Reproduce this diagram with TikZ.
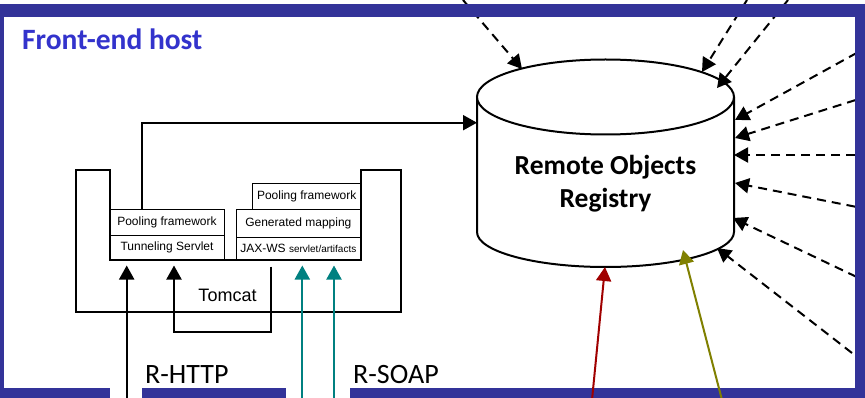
\documentclass[tikz,border=0pt]{standalone}
\usepackage{fontspec}
\usetikzlibrary{arrows.meta}
\newfontfamily\fcarl{Carlito}
\newfontfamily\farial{Liberation Sans}
\definecolor{framebl}{RGB}{51,51,153}
\definecolor{titlebl}{RGB}{51,51,204}
\definecolor{tealc}{RGB}{0,128,128}
\definecolor{redc}{RGB}{160,0,0}
\definecolor{olivec}{RGB}{128,128,0}
\tikzset{
  tipstyle/.style={-{Triangle[length=14pt,width=15pt]}},
  dsh/.style={tipstyle, line width=2pt, dash pattern=on 9pt off 6pt},
  blk/.style={tipstyle, line width=2pt},
  cell/.style={draw, line width=1pt, inner sep=0pt, font=\farial\fontsize{12}{14}\selectfont},
  band/.style={fill=framebl},
  cyl/.style={line width=2pt},
  big/.style={font=\fcarl\fontsize{28}{34}\selectfont, inner sep=0pt},
}
\begin{document}
\begin{tikzpicture}[x=1pt,y=-1pt]
\useasboundingbox (0,0) rectangle (865,398);
\fill[white] (0,0) rectangle (865,398);

% cylinder
\fill[white] (477,97) -- (477,232) arc[start angle=180,end angle=360,x radius=128.5pt,y radius=35pt] -- (734,97) -- cycle;
\draw[cyl] (477,97) -- (477,232) arc[start angle=180,end angle=360,x radius=128.5pt,y radius=35pt] -- (734,97);
\draw[cyl, fill=white] (605.5,97) ellipse [x radius=128.5pt,y radius=37.5pt];
\node[font=\fcarl\bfseries\fontsize{27.5}{33}\selectfont, anchor=base, inner sep=0pt] (ror1) at (605.5,175) {Remote Objects};
\node[font=\fcarl\bfseries\fontsize{27.5}{33}\selectfont, anchor=base, inner sep=0pt] (ror2) at (605.5,208) {Registry};

% dashed arrows
\coordinate (sA) at (463,0);   \coordinate (tA) at (522,69);
\coordinate (sB) at (747,0);   \coordinate (tB) at (702,72);
\coordinate (sC) at (788,0);   \coordinate (tC) at (717,88);
\coordinate (s1) at (870,45.6);  \coordinate (t1) at (735,120);
\coordinate (s2) at (870,95.5);  \coordinate (t2) at (735,138);
\coordinate (s3) at (870,155);   \coordinate (t3) at (734,155);
\coordinate (s4) at (870,209.6); \coordinate (t4) at (735,183);
\coordinate (s5) at (870,283.3); \coordinate (t5) at (733,218);
\coordinate (s6) at (852,353);   \coordinate (t6) at (717,248);
\foreach \i in {A,B,C,1,2,3,4,5,6} { \draw[dsh] (s\i) -- (t\i); }

% frame
\fill[band] (0,4) rectangle (865,17);
\fill[band] (0,4) rectangle (4,398);
\fill[band] (855,4) rectangle (865,398);
\fill[band] (0,388) rectangle (110,398);
\fill[band] (142,388) rectangle (286,398);
\fill[band] (350,388) rectangle (865,398);

\node[font=\fcarl\bfseries\fontsize{29.5}{35}\selectfont, text=titlebl, anchor=base west, inner sep=0pt] (title) at (22,50) {Front-end host};
\node[big, anchor=base west] (rhttp) at (145,383) {R-HTTP};
\node[big, anchor=base west] (rsoap) at (353,383) {R-SOAP};

% Tomcat container
\draw[line width=1.8pt] (75.7,170) -- (110,170) -- (110,260) -- (360.7,260) -- (360.7,170) -- (400.7,170) -- (400.7,312.3) -- (75.7,312.3) -- cycle;
\node[cell, minimum width=114pt, minimum height=25.7pt] (lpool) at (167,222.85) {Pooling framework};
\node[cell, minimum width=114pt, minimum height=24.3pt] (tunnel) at (167,247.85) {Tunneling Servlet};
\node[cell, minimum width=108pt, minimum height=26.7pt] (rpool) at (306.7,196.65) {Pooling framework};
\node[cell, minimum width=124.7pt, minimum height=27.3pt] (genmap) at (298.35,223.65) {Generated mapping};
\node[cell, minimum width=124.7pt, minimum height=22.7pt] (jaxws) at (298.35,248.65) {JAX-WS {\fontsize{10}{12}\selectfont servlet/artifacts}};
\node[font=\farial\fontsize{18}{20}\selectfont, inner sep=0pt] (tomcat) at (227.5,295) {Tomcat};

% black arrows
\coordinate (b1) at (126.7,400);
\draw[blk, shorten >=5pt] (b1) -- (b1 |- tunnel.south);
\coordinate (lp) at (270.7,266.7);
\coordinate (lpb) at (174,331.7);
\draw[blk, shorten >=5pt] (lp) |- (lpb) -- (lpb |- tunnel.south);
\coordinate (cylL) at (477,122.7);
\draw[blk] ([xshift=-25.3pt]lpool.north) |- (cylL);

% teal arrows
\coordinate (c1) at (302.3,400);
\coordinate (c2) at (334,400);
\draw[blk, tealc, shorten >=5pt] (c1) -- (c1 |- jaxws.south);
\draw[blk, tealc, shorten >=5pt] (c2) -- (c2 |- jaxws.south);

% red and olive arrows
\coordinate (rs) at (592,400); \coordinate (rt) at (605,267);
\coordinate (os) at (722,400); \coordinate (ot) at (683,250);
\draw[blk, redc] (rs) -- (rt);
\draw[blk, olivec] (os) -- (ot);
\end{tikzpicture}
\end{document}
